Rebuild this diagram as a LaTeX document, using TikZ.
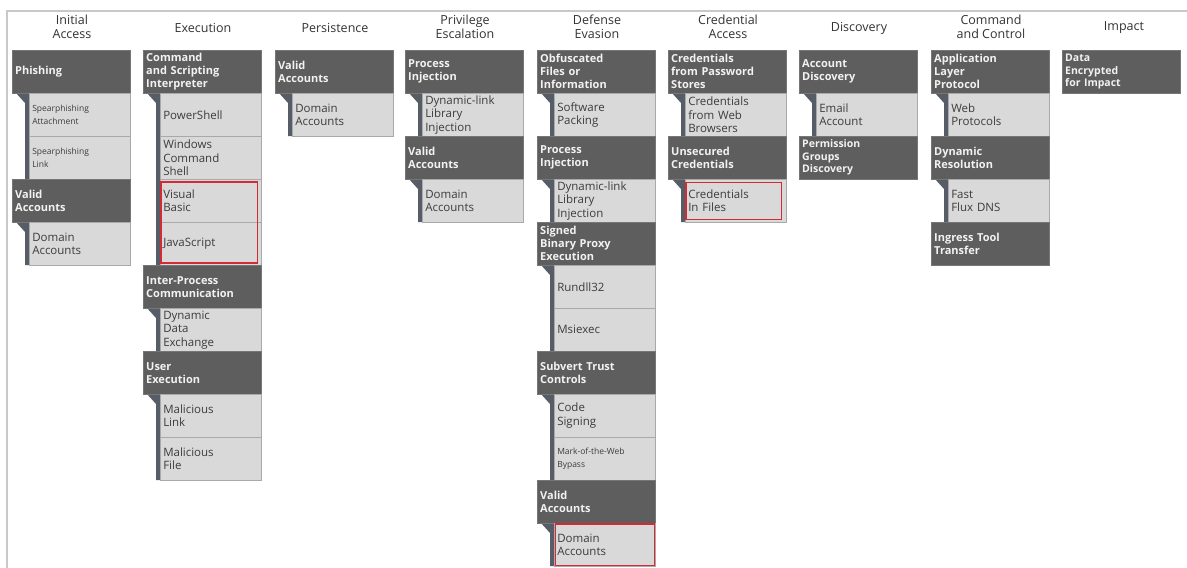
\documentclass[tikz,border=0pt]{standalone}
\usepackage{fontspec}
\setmainfont{Open Sans}
\definecolor{hdc}{HTML}{5E5E5E}
\definecolor{foldc}{HTML}{575D66}
\definecolor{sbc}{HTML}{D9D9D9}
\definecolor{sbline}{HTML}{A9A9A9}
\definecolor{sbt}{HTML}{3C3C3C}
\definecolor{ttc}{HTML}{333333}
\definecolor{framec}{HTML}{C8C8C8}
\definecolor{redc}{HTML}{D42A35}
\newcommand\myfold[3]{\fill[foldc] (#1+4,#2) -- (#1+13,#2+10) -- (#1+13,#3) -- (#1+17,#3) -- (#1+17,#2) -- cycle;}
\tikzset{
 hd/.style={anchor=north west, fill=hdc, draw=hdc!85!white, line width=0.4pt, minimum width=118, minimum height=43, text width=112, inner xsep=3, inner ysep=0, align=left, text=white!95!black, font=\bfseries\fontsize{11}{13}\selectfont},
 sb/.style={anchor=north west, fill=sbc, draw=sbline, line width=0.5pt, minimum width=101, minimum height=43, text width=95, inner xsep=3, inner ysep=0, align=left, text=sbt, font=\fontsize{11.5}{13.5}\selectfont},
 small/.style={font=\fontsize{8.5}{13}\selectfont},
 smallhd/.style={font=\bfseries\fontsize{10.5}{12.5}\selectfont},
 ttl/.style={anchor=center, align=center, text=ttc, font=\fontsize{12.5}{14.5}\selectfont},
 redbox/.style={draw=redc, line width=1.5pt},
}
\begin{document}
\begin{tikzpicture}[x=1pt,y=-1pt]
\useasboundingbox (0,0) rectangle (1187,568);
\fill[white] (0,0) rectangle (1187,568);
\draw[framec, line width=1.5pt] (1187,11) -- (7,11) -- (7,568);
% titles
\node[ttl] (t1) at (72,27) {Initial\\Access};
\node[ttl] (t2) at (203,28) {Execution};
\node[ttl] (t3) at (335,28) {Persistence};
\node[ttl] (t4) at (465,27) {Privilege\\Escalation};
\node[ttl] (t5) at (597,27) {Defense\\Evasion};
\node[ttl] (t6) at (728,27) {Credential\\Access};
\node[ttl] (t7) at (859,28) {Discovery};
\node[ttl] (t8) at (991,27) {Command\\and Control};
\node[ttl] (t9) at (1124,28) {Impact};
% column 1
\myfold{12}{93}{179}
\myfold{12}{222}{265}
\node[hd] (c1a) at (12,50) {Phishing};
\node[sb,small] (c1a1) at (29,93) {Spearphishing\\Attachment};
\node[sb,small] (c1a2) at (29,136) {Spearphishing\\Link};
\node[hd] (c1b) at (12,179) {Valid\\Accounts};
\node[sb] (c1b1) at (29,222) {Domain\\Accounts};
% column 2
\myfold{143}{93}{265}
\myfold{143}{308}{351}
\myfold{143}{394}{480}
\node[hd] (c2a) at (143,50) {Command\\and Scripting\\Interpreter};
\node[sb] (c2a1) at (160,93) {PowerShell};
\node[sb] (c2a2) at (160,136) {Windows\\Command\\Shell};
\node[sb] (c2a3) at (160,179) {Visual\\Basic};
\node[sb] (c2a4) at (160,222) {JavaScript};
\node[hd] (c2b) at (143,265) {Inter-Process\\Communication};
\node[sb] (c2b1) at (160,308) {Dynamic\\Data\\Exchange};
\node[hd] (c2c) at (143,351) {User\\Execution};
\node[sb] (c2c1) at (160,394) {Malicious\\Link};
\node[sb] (c2c2) at (160,437) {Malicious\\File};
% column 3
\myfold{275}{93}{136}
\node[hd] (c3a) at (275,50) {Valid\\Accounts};
\node[sb] (c3a1) at (292,93) {Domain\\Accounts};
% column 4
\myfold{405}{93}{136}
\myfold{405}{179}{222}
\node[hd] (c4a) at (405,50) {Process\\Injection};
\node[sb] (c4a1) at (422,93) {Dynamic-link\\Library\\Injection};
\node[hd] (c4b) at (405,136) {Valid\\Accounts};
\node[sb] (c4b1) at (422,179) {Domain\\Accounts};
% column 5
\myfold{537}{93}{136}
\myfold{537}{179}{222}
\myfold{537}{265}{351}
\myfold{537}{394}{480}
\myfold{537}{523}{566}
\node[hd] (c5a) at (537,50) {Obfuscated\\Files or\\Information};
\node[sb] (c5a1) at (554,93) {Software\\Packing};
\node[hd] (c5b) at (537,136) {Process\\Injection};
\node[sb] (c5b1) at (554,179) {Dynamic-link\\Library\\Injection};
\node[hd] (c5c) at (537,222) {Signed\\Binary Proxy\\Execution};
\node[sb] (c5c1) at (554,265) {Rundll32};
\node[sb] (c5c2) at (554,308) {Msiexec};
\node[hd] (c5d) at (537,351) {Subvert Trust\\Controls};
\node[sb] (c5d1) at (554,394) {Code\\Signing};
\node[sb,small] (c5d2) at (554,437) {Mark-of-the-Web\\Bypass};
\node[hd] (c5e) at (537,480) {Valid\\Accounts};
\node[sb] (c5e1) at (554,523) {Domain\\Accounts};
% column 6
\myfold{668}{93}{136}
\myfold{668}{179}{222}
\node[hd] (c6a) at (668,50) {Credentials\\from Password\\Stores};
\node[sb] (c6a1) at (685,93) {Credentials\\from Web\\Browsers};
\node[hd] (c6b) at (668,136) {Unsecured\\Credentials};
\node[sb] (c6b1) at (685,179) {Credentials\\In Files};
% column 7
\myfold{799}{93}{136}
\node[hd] (c7a) at (799,50) {Account\\Discovery};
\node[sb] (c7a1) at (816,93) {Email\\Account};
\node[hd,smallhd] (c7b) at (799,136) {Permission\\Groups\\Discovery};
% column 8
\myfold{931}{93}{136}
\myfold{931}{179}{222}
\node[hd] (c8a) at (931,50) {Application\\Layer\\Protocol};
\node[sb] (c8a1) at (948,93) {Web\\Protocols};
\node[hd] (c8b) at (931,136) {Dynamic\\Resolution};
\node[sb] (c8b1) at (948,179) {Fast\\Flux DNS};
\node[hd] (c8c) at (931,222) {Ingress Tool\\Transfer};
% column 9
\node[hd,smallhd] (c9a) at (1062,50) {Data\\Encrypted\\for Impact};
% highlights
\draw[redbox] ([xshift=0.8pt,yshift=-3pt]c2a3.north west) rectangle ([xshift=-4pt,yshift=2.5pt]c2a4.south east);
\draw[redbox] ([xshift=0.8pt,yshift=-3.5pt]c6b1.north west) rectangle ([xshift=-5pt,yshift=3pt]c6b1.south east);
\draw[redbox] ([xshift=1.5pt,yshift=-1pt]c5e1.north west) rectangle ([xshift=-1pt,yshift=1pt]c5e1.south east);
\end{tikzpicture}
\end{document}
